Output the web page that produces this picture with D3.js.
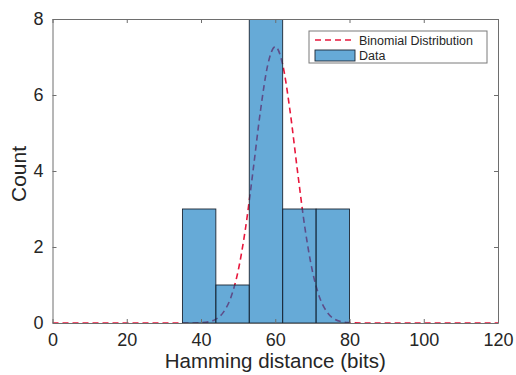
<!DOCTYPE html>
<html>
<head>
<meta charset="utf-8">
<script src="https://cdn.jsdelivr.net/npm/d3@7"></script>
<style>
  html, body { margin: 0; padding: 0; background: #fff; }
  svg { display: block; font-family: "Liberation Sans", Arial, sans-serif; }
</style>
</head>
<body>
<div id="chart"></div>
<script>
// ── Data ───────────────────────────────────────────────────────────────
const binEdges  = [35, 44, 53, 62, 71, 80];
const binCounts = [3, 1, 8, 3, 3];

// dashed binomial curve
const curveX = [0, 30, 36, 40, 42, 44, 46, 48, 50, 52, 54, 56, 58, 60, 62, 64, 66, 68, 70, 72, 74, 76, 78, 80, 84, 90, 120];
const curveY = [0, 0, 0, 0.01, 0.03, 0.1, 0.28, 0.66, 1.37, 2.5, 3.99, 5.57, 6.8, 7.27, 6.8, 5.57, 3.99, 2.5, 1.37, 0.66, 0.28, 0.1, 0.03, 0.01, 0, 0, 0];

const xTicks = [0, 20, 40, 60, 80, 100, 120];
const yTicks = [0, 2, 4, 6, 8];

// ── Setup ──────────────────────────────────────────────────────────────
const W = 516, H = 375;
const M = { l: 52.5, r: 18, t: 19, b: 52 };

const svg = d3.select("#chart").append("svg").attr("width", W).attr("height", H);

const x = d3.scaleLinear().domain([0, 120]).range([M.l, W - M.r]);
const y = d3.scaleLinear().domain([0, 8]).range([H - M.b, M.t]);

svg.append("defs").append("clipPath").attr("id", "clip")
  .append("rect").attr("x", M.l).attr("y", M.t)
  .attr("width", x(120) - M.l).attr("height", y(0) - M.t);

const plot = svg.append("g").attr("clip-path", "url(#clip)");

// ── Curve (drawn under the translucent bars) ──
const pts = curveX.map((v, i) => [v, curveY[i]]);
plot.append("path")
  .datum(pts)
  .attr("d", d3.line().x(d => x(d[0])).y(d => y(d[1])).curve(d3.curveMonotoneX))
  .attr("fill", "none").attr("stroke", "#e8173c")
  .attr("stroke-width", 1.6).attr("stroke-dasharray", "6,4");

// ── Bars ──
const bins = binCounts.map((c, i) => ({ x0: binEdges[i], x1: binEdges[i + 1], c }));
plot.selectAll("rect.bar").data(bins).join("rect").attr("class", "bar")
  .attr("x", d => x(d.x0)).attr("width", d => x(d.x1) - x(d.x0))
  .attr("y", d => y(d.c)).attr("height", d => y(0) - y(d.c))
  .attr("fill", "#0072BD").attr("fill-opacity", 0.6)
  .attr("stroke", "#1b2633").attr("stroke-width", 0.9);

// ── Axes ──
const axColor = "#6e6e6e";
const gx = svg.append("g").attr("transform", `translate(0,${y(0)})`)
  .call(d3.axisBottom(x).tickValues(xTicks).tickSizeInner(-4).tickSizeOuter(0).tickPadding(10));
const gxTop = svg.append("g").attr("transform", `translate(0,${M.t})`)
  .call(d3.axisTop(x).tickValues(xTicks).tickSizeInner(-4).tickSizeOuter(0).tickFormat(""));
const gy = svg.append("g").attr("transform", `translate(${M.l},0)`)
  .call(d3.axisLeft(y).tickValues(yTicks).tickSizeInner(-4).tickSizeOuter(0).tickPadding(9));
const gyR = svg.append("g").attr("transform", `translate(${x(120)},0)`)
  .call(d3.axisRight(y).tickValues(yTicks).tickSizeInner(-4).tickSizeOuter(0).tickFormat(""));

[gx, gxTop, gy, gyR].forEach(g => {
  g.select(".domain").attr("stroke", axColor).attr("stroke-width", 1);
  g.selectAll(".tick line").attr("stroke", axColor);
  g.selectAll(".tick text").attr("fill", "#262626").attr("font-size", 18)
    .attr("font-family", "Liberation Sans, Arial, sans-serif");
});

// ── Labels ──
svg.append("text").attr("x", (x(0) + x(120)) / 2).attr("y", 368)
  .attr("text-anchor", "middle").attr("font-size", 20.5).attr("fill", "#262626")
  .text("Hamming distance (bits)");

svg.append("text").attr("transform", `translate(26,174) rotate(-90)`)
  .attr("text-anchor", "middle").attr("font-size", 21).attr("fill", "#262626")
  .text("Count");

// ── Legend ──
const lg = svg.append("g");
lg.append("rect").attr("x", 309).attr("y", 31).attr("width", 178).attr("height", 32)
  .attr("fill", "#fff").attr("stroke", "#7a7a7a").attr("stroke-width", 1);
lg.append("line").attr("x1", 315).attr("x2", 352).attr("y1", 40).attr("y2", 40)
  .attr("stroke", "#e8173c").attr("stroke-width", 1.6).attr("stroke-dasharray", "6,4");
lg.append("text").attr("x", 359).attr("y", 44.5).attr("font-size", 12.5).attr("fill", "#262626")
  .text("Binomial Distribution");
lg.append("rect").attr("x", 315).attr("y", 50).attr("width", 40).attr("height", 11)
  .attr("fill", "#0072BD").attr("fill-opacity", 0.6)
  .attr("stroke", "#1b2633").attr("stroke-width", 0.9);
lg.append("text").attr("x", 359).attr("y", 60).attr("font-size", 12.5).attr("fill", "#262626")
  .text("Data");
</script>
</body>
</html>
